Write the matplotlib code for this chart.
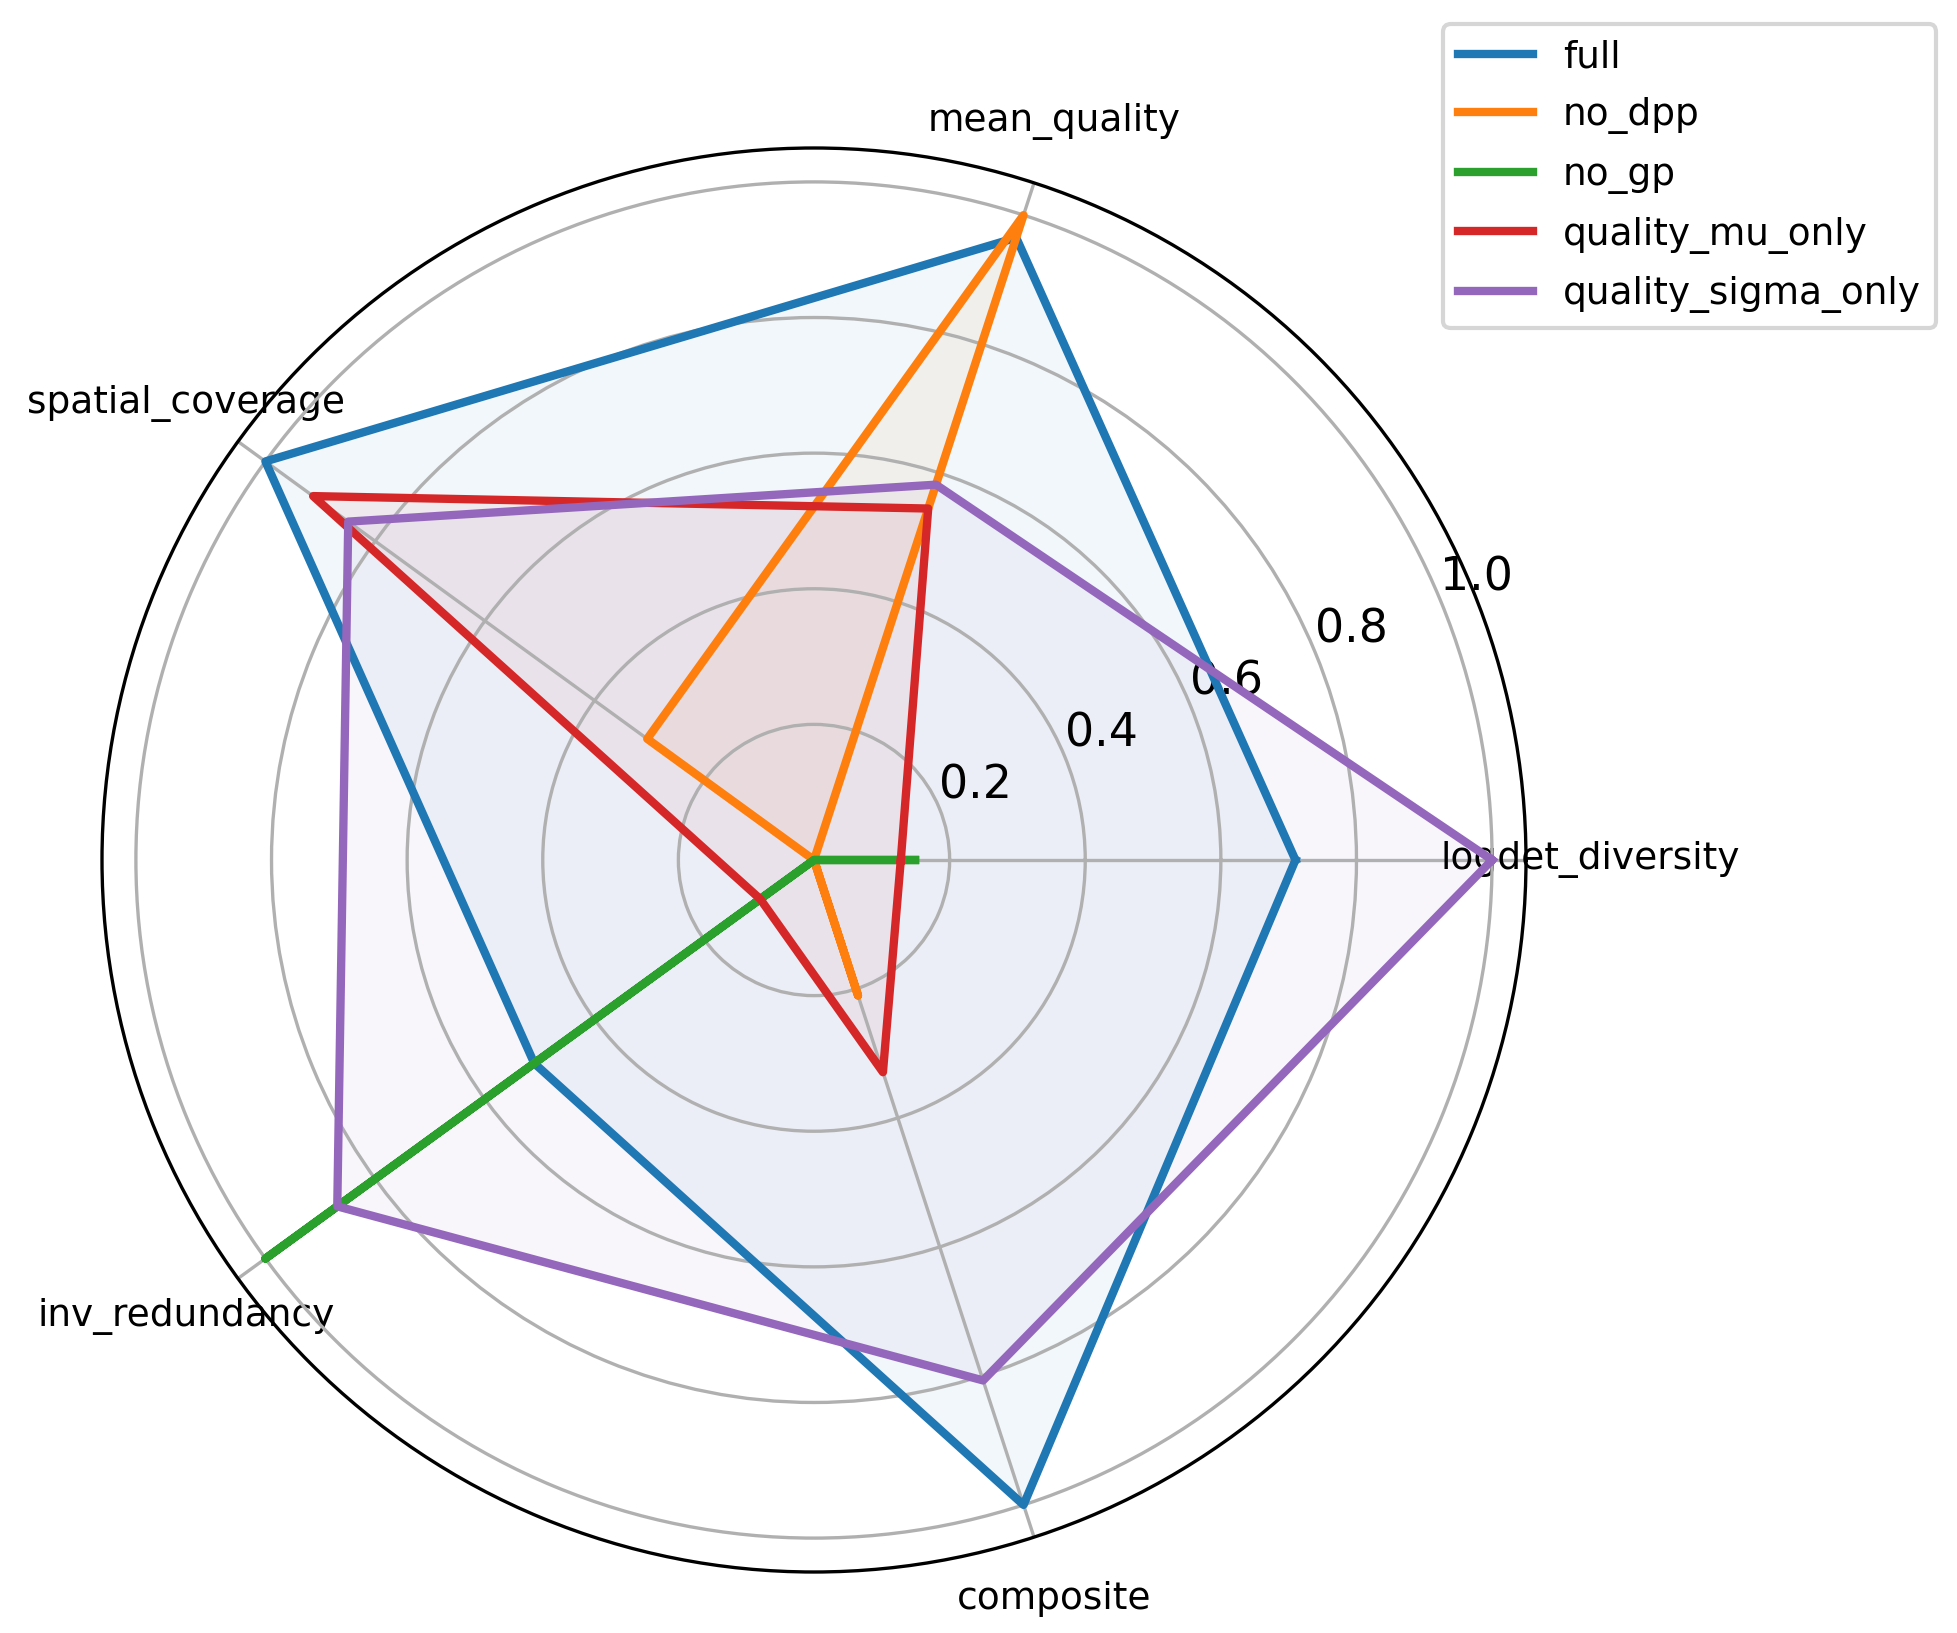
import numpy as np
import matplotlib
matplotlib.use("Agg")
import matplotlib.pyplot as plt

categories = ["logdet_diversity", "mean_quality", "spatial_coverage", "inv_redundancy", "composite"]
series_names = ["full", "no_dpp", "no_gp", "quality_mu_only", "quality_sigma_only"]
full = [0.71, 0.965, 1.0, 0.51, 1.0]
no_dpp = [0.0, 1.0, 0.304, 0.0, 0.21]
no_gp = [0.149, 0.0, 0.0, 1.0, 0.0]
quality_mu_only = [0.128, 0.545, 0.913, 0.098, 0.329]
quality_sigma_only = [1.0, 0.582, 0.849, 0.869, 0.807]
series_values = [full, no_dpp, no_gp, quality_mu_only, quality_sigma_only]
radial_ticks = [0.2, 0.4, 0.6, 0.8, 1.0]

W, H, DPI = 1957, 1633, 300
fig = plt.figure(figsize=(W / DPI, H / DPI), dpi=DPI)
cx, cy, R = 814, 860, 712
ax = fig.add_axes([(cx - R) / W, (H - cy - R) / H, 2 * R / W, 2 * R / H], polar=True)

n = len(categories)
angles = np.linspace(0, 2 * np.pi, n, endpoint=False).tolist()
angles_closed = angles + angles[:1]

colors = ["#1f77b4", "#ff7f0e", "#2ca02c", "#d62728", "#9467bd"]
for name, vals, c in zip(series_names, series_values, colors):
    v = list(vals) + [vals[0]]
    ax.plot(angles_closed, v, color=c, linewidth=2, label=name)
    ax.fill(angles_closed, v, color=c, alpha=0.06)

ax.set_xticks(angles)
ax.set_xticklabels(categories, fontsize=9)
ax.tick_params(axis="x", pad=5)
ax.set_ylim(0, 1.05)
ax.set_yticks(radial_ticks)
ax.set_yticklabels([f"{t:.1f}" for t in radial_ticks], fontsize=11)

fig.legend(loc="upper right", bbox_to_anchor=(1936 / W, 1 - 24 / H),
           bbox_transform=fig.transFigure, borderaxespad=0, fontsize=9,
           labelspacing=0.6)

fig.savefig("out.png", dpi=DPI)
